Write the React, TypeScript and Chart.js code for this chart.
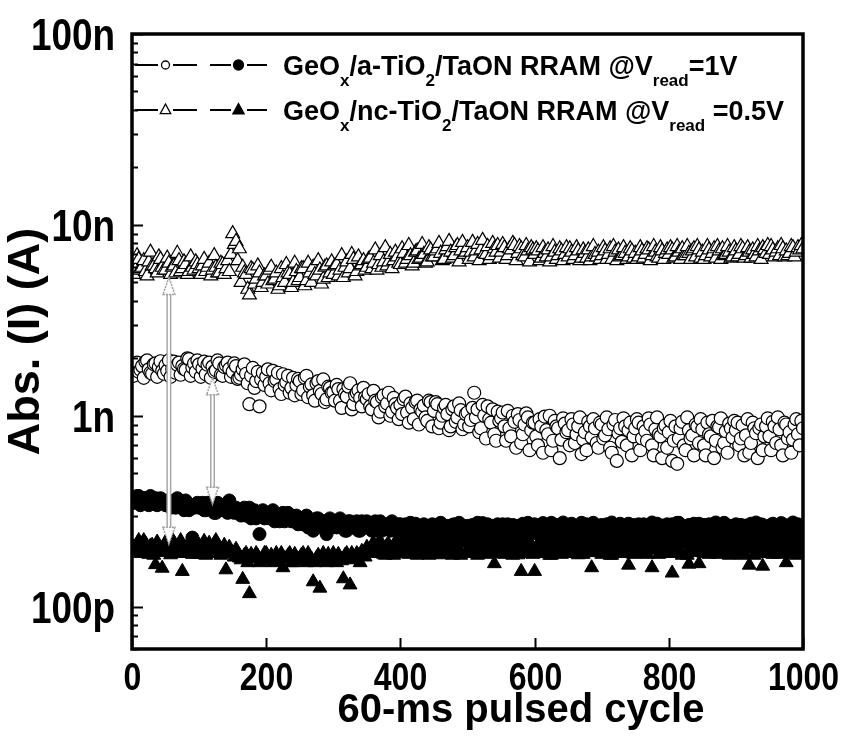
import React, { useEffect, useRef } from 'react';
import { Chart, registerables } from 'chart.js';

Chart.register(...registerables);

// ---------- data (currents in nA) ----------
// samples every 5 pulsed cycles (0 ... 1000) and an interleaved set at 2.5, 7.5, ... 997.5
const cycles: number[] = Array.from({ length: 201 }, (_, i) => i * 5);
const cyclesMid: number[] = Array.from({ length: 200 }, (_, i) => i * 5 + 2.5);

// GeOx/a-TiO2/TaON, open circles
const aTiO2Open: number[] = [
  1.78, 1.85, 1.70, 1.82, 1.92, 1.75, 1.66, 1.88, 1.80, 1.72,
  1.84, 1.95, 1.76, 1.68, 1.90, 1.82, 1.74, 1.98, 1.79, 1.70,
  1.86, 1.77, 1.65, 1.90, 1.81, 1.73, 1.88, 1.62, 1.84, 1.76,
  1.70, 1.82, 1.58, 1.75, 1.66, 1.15, 1.78, 1.52, 1.12, 1.68,
  1.60, 1.48, 1.72, 1.55, 1.38, 1.65, 1.50, 1.32, 1.58, 1.45,
  1.52, 1.36, 1.62, 1.42, 1.28, 1.48, 1.35, 1.55, 1.22, 1.40,
  1.33, 1.45, 1.20, 1.38, 1.26, 1.48, 1.15, 1.32, 1.24, 1.40,
  1.22, 1.12, 1.35, 1.18, 1.05, 1.28, 1.16, 1.00, 1.24, 1.10,
  1.14, 1.22, 1.04, 1.16, 0.96, 1.20, 1.08, 1.13, 0.94, 1.18,
  1.06, 1.15, 0.92, 1.10, 1.02, 0.88, 1.12, 0.98, 1.07, 0.90,
  1.04, 0.95, 1.32, 1.08, 0.86, 1.00, 1.12, 0.92, 0.80, 1.05,
  0.97, 0.88, 1.06, 0.78, 0.93, 1.02, 0.72, 0.90, 0.98, 0.84,
  0.92, 0.70, 0.88, 0.99, 0.80, 0.66, 0.94, 0.86, 0.75, 0.91,
  0.84, 0.96, 0.72, 0.88, 0.63, 0.82, 0.93, 0.77, 0.86, 0.68,
  0.90, 0.79, 0.85, 0.64, 0.95, 0.81, 0.73, 0.88, 0.84, 0.62,
  0.86, 0.92, 0.76, 0.83, 0.97, 0.70, 0.85, 0.80, 0.60, 0.89,
  0.82, 0.58, 0.88, 0.76, 0.93, 0.66, 0.84, 0.79, 0.90, 0.72,
  0.85, 0.62, 0.80, 0.94, 0.74, 0.87, 0.68, 0.83, 0.91, 0.77,
  0.84, 0.70, 0.89, 0.79, 0.64, 0.92, 0.81, 0.86, 0.66, 0.88,
  0.78, 0.93, 0.72, 0.85, 0.62, 0.90, 0.82, 0.75, 0.96, 0.70,
  0.86,
];
const aTiO2OpenMid: number[] = [
  1.62, 1.90, 1.74, 1.58, 1.95, 1.68, 1.86, 1.60, 1.93, 1.66,
  1.72, 1.60, 1.92, 1.85, 1.64, 1.76, 2.00, 1.62, 1.88, 1.95,
  1.60, 1.92, 1.85, 1.58, 1.70, 1.95, 1.64, 1.80, 1.90, 1.60,
  1.88, 1.56, 1.64, 1.86, 1.48, 1.62, 1.40, 1.70, 1.55, 1.45,
  1.75, 1.36, 1.52, 1.68, 1.30, 1.45, 1.62, 1.40, 1.28, 1.56,
  1.30, 1.58, 1.25, 1.46, 1.20, 1.52, 1.30, 1.18, 1.42, 1.32,
  1.20, 1.38, 1.10, 1.30, 1.42, 1.08, 1.28, 1.36, 1.12, 1.25,
  1.30, 1.08, 1.20, 0.98, 1.25, 1.12, 1.32, 1.05, 1.15, 0.96,
  1.02, 1.26, 0.92, 1.10, 1.18, 0.90, 1.05, 0.98, 1.20, 0.88,
  1.18, 0.86, 1.00, 1.14, 0.84, 1.08, 0.93, 1.16, 0.85, 1.02,
  0.88, 1.10, 0.98, 0.82, 1.14, 0.76, 0.96, 1.08, 0.74, 0.94,
  1.04, 0.74, 0.86, 1.00, 0.68, 0.95, 0.80, 1.03, 0.66, 0.92,
  0.78, 0.96, 0.64, 0.84, 1.00, 0.74, 0.88, 0.60, 0.97, 0.82,
  0.70, 0.90, 0.80, 0.98, 0.75, 0.66, 0.88, 0.96, 0.72, 0.92,
  0.76, 0.98, 0.68, 0.90, 0.58, 0.86, 0.97, 0.70, 0.92, 0.78,
  0.96, 0.66, 0.88, 0.74, 0.90, 0.62, 0.98, 0.78, 0.86, 0.68,
  0.94, 0.74, 0.56, 0.86, 0.70, 0.98, 0.76, 0.62, 0.88, 0.96,
  0.70, 0.92, 0.78, 0.60, 0.88, 0.97, 0.72, 0.64, 0.86, 0.94,
  0.92, 0.76, 0.62, 0.96, 0.72, 0.86, 0.60, 0.90, 0.78, 0.97,
  0.66, 0.88, 0.98, 0.70, 0.92, 0.76, 0.64, 0.90, 0.80, 0.94,
];

// GeOx/a-TiO2/TaON, filled circles
const aTiO2Filled: number[] = [
  0.37, 0.36, 0.38, 0.35, 0.37, 0.34, 0.36, 0.37, 0.35, 0.36,
  0.34, 0.36, 0.35, 0.33, 0.35, 0.34, 0.36, 0.32, 0.23, 0.34,
  0.33, 0.35, 0.32, 0.34, 0.33, 0.31, 0.34, 0.32, 0.33, 0.36,
  0.32, 0.33, 0.31, 0.32, 0.30, 0.33, 0.31, 0.29, 0.24, 0.32,
  0.31, 0.29, 0.32, 0.30, 0.28, 0.31, 0.29, 0.30, 0.28, 0.30,
  0.29, 0.27, 0.30, 0.28, 0.25, 0.29, 0.27, 0.28, 0.24, 0.29,
  0.28, 0.26, 0.29, 0.27, 0.25, 0.28, 0.26, 0.28, 0.25, 0.27,
  0.28, 0.26, 0.27, 0.25, 0.28, 0.26, 0.27, 0.25, 0.27, 0.26,
  0.27, 0.24, 0.26, 0.275, 0.235, 0.26, 0.23, 0.27, 0.245, 0.265,
  0.26, 0.235, 0.275, 0.23, 0.265, 0.245, 0.27, 0.23, 0.26, 0.24,
  0.265, 0.23, 0.25, 0.275, 0.235, 0.255, 0.27, 0.23, 0.245, 0.27,
  0.25, 0.23, 0.27, 0.245, 0.228, 0.265, 0.24, 0.232, 0.275, 0.245,
  0.27, 0.24, 0.23, 0.265, 0.245, 0.275, 0.232, 0.25, 0.27, 0.235,
  0.25, 0.272, 0.23, 0.255, 0.275, 0.24, 0.23, 0.268, 0.245, 0.232,
  0.268, 0.235, 0.25, 0.276, 0.242, 0.23, 0.265, 0.248, 0.272, 0.232,
  0.25, 0.27, 0.232, 0.255, 0.268, 0.276, 0.24, 0.23, 0.266, 0.245,
  0.232, 0.27, 0.248, 0.275, 0.235, 0.255, 0.268, 0.23, 0.25, 0.272,
  0.245, 0.23, 0.27, 0.25, 0.276, 0.234, 0.255, 0.268, 0.23, 0.25,
  0.27, 0.245, 0.23, 0.266, 0.25, 0.232, 0.276, 0.245, 0.268, 0.235,
  0.25, 0.272, 0.232, 0.255, 0.27, 0.23, 0.248, 0.276, 0.25, 0.235,
  0.255,
];
const aTiO2FilledMid: number[] = [
  0.35, 0.38, 0.34, 0.37, 0.36, 0.38, 0.35, 0.34, 0.37, 0.35,
  0.36, 0.33, 0.35, 0.37, 0.34, 0.32, 0.35, 0.34, 0.33, 0.35,
  0.34, 0.32, 0.35, 0.33, 0.31, 0.35, 0.33, 0.34, 0.31, 0.33,
  0.31, 0.32, 0.30, 0.33, 0.31, 0.29, 0.32, 0.30, 0.31, 0.29,
  0.30, 0.31, 0.28, 0.30, 0.29, 0.28, 0.31, 0.28, 0.29, 0.27,
  0.28, 0.29, 0.26, 0.28, 0.27, 0.29, 0.26, 0.28, 0.27, 0.26,
  0.27, 0.28, 0.26, 0.25, 0.28, 0.26, 0.27, 0.25, 0.28, 0.26,
  0.27, 0.25, 0.28, 0.26, 0.25, 0.27, 0.26, 0.28, 0.25, 0.27,
  0.25, 0.27, 0.245, 0.26, 0.272, 0.24, 0.265, 0.25, 0.235, 0.27,
  0.245, 0.27, 0.24, 0.258, 0.232, 0.268, 0.25, 0.275, 0.238, 0.262,
  0.24, 0.268, 0.23, 0.255, 0.274, 0.245, 0.232, 0.265, 0.25, 0.238,
  0.27, 0.248, 0.236, 0.268, 0.255, 0.23, 0.272, 0.25, 0.24, 0.266,
  0.245, 0.262, 0.274, 0.238, 0.255, 0.23, 0.268, 0.242, 0.276, 0.25,
  0.268, 0.24, 0.26, 0.232, 0.25, 0.27, 0.245, 0.275, 0.235, 0.262,
  0.242, 0.27, 0.235, 0.258, 0.23, 0.272, 0.25, 0.232, 0.255, 0.268,
  0.235, 0.248, 0.27, 0.232, 0.245, 0.255, 0.272, 0.262, 0.235, 0.27,
  0.265, 0.24, 0.275, 0.23, 0.26, 0.245, 0.232, 0.272, 0.268, 0.24,
  0.268, 0.255, 0.236, 0.272, 0.24, 0.262, 0.275, 0.238, 0.265, 0.248,
  0.24, 0.268, 0.255, 0.232, 0.272, 0.262, 0.238, 0.27, 0.234, 0.258,
  0.268, 0.235, 0.262, 0.274, 0.24, 0.266, 0.232, 0.255, 0.27, 0.245,
];

// GeOx/nc-TiO2/TaON, open triangles
const ncTiO2Open: number[] = [
  6.2, 5.8, 6.6, 6.0, 5.7, 6.4, 6.1, 5.9, 6.8, 6.0,
  5.8, 6.3, 6.0, 5.6, 6.5, 5.9, 6.2, 5.7, 6.0, 6.4,
  5.9, 6.1, 5.7, 6.3, 5.8, 6.0, 5.6, 6.2, 5.9, 5.7,
  9.0, 8.2, 7.5, 6.0, 5.5, 4.3, 5.8, 5.2, 5.6, 5.0,
  5.4, 5.8, 5.1, 5.6, 4.8, 5.3, 6.2, 5.5, 5.0, 5.7,
  5.3, 5.9, 5.1, 5.6, 6.0, 5.4, 5.8, 5.2, 6.1, 5.6,
  5.5, 6.2, 5.8, 5.3, 6.4, 5.9, 6.6, 5.7, 6.1, 6.5,
  6.0, 6.7, 6.3, 5.8, 6.9, 6.4, 6.1, 7.0, 6.5, 6.8,
  6.2, 7.1, 6.6, 6.9, 6.3, 7.3, 6.7, 7.0, 6.4, 7.4,
  6.8, 7.5, 7.1, 6.6, 7.7, 7.2, 6.9, 7.8, 7.3, 7.0,
  7.6, 7.2, 6.8, 7.9, 7.4, 7.1, 7.7, 6.9, 7.5, 7.8,
  7.2, 7.6, 6.9, 7.4, 7.8, 7.1, 7.5, 6.8, 7.3, 7.6,
  7.0, 7.3, 6.7, 7.1, 7.4, 6.8, 7.2, 6.9, 7.3, 7.0,
  6.8, 7.2, 6.9, 7.3, 6.7, 7.1, 7.4, 6.8, 7.0, 7.2,
  6.9, 7.3, 7.0, 6.6, 7.2, 7.4, 6.9, 7.1, 6.8, 7.3,
  7.1, 6.8, 7.3, 7.0, 7.4, 6.9, 7.2, 6.7, 7.3, 7.1,
  7.0, 7.4, 6.8, 7.2, 7.5, 6.9, 7.1, 7.3, 6.8, 7.4,
  7.2, 6.9, 7.4, 7.1, 6.7, 7.3, 7.5, 7.0, 7.2, 6.8,
  7.3, 7.0, 7.5, 6.9, 7.2, 7.4, 6.8, 7.3, 7.6, 7.1,
  7.0, 7.4, 7.2, 6.9, 7.5, 7.3, 7.1, 7.6, 7.2, 7.4,
  7.5,
];
const ncTiO2OpenMid: number[] = [
  5.5, 6.9, 5.9, 6.5, 5.4, 7.2, 6.1, 5.6, 6.6, 5.8,
  6.7, 5.5, 6.1, 7.1, 5.7, 6.4, 5.5, 6.8, 5.8, 6.2,
  5.5, 6.6, 6.0, 5.4, 6.9, 5.6, 6.3, 5.5, 6.5, 7.0,
  7.9, 6.5, 5.0, 5.6, 4.6, 5.9, 4.9, 6.1, 4.7, 5.4,
  4.9, 6.0, 5.2, 4.6, 5.9, 5.0, 5.6, 4.7, 6.3, 5.1,
  5.9, 4.8, 6.3, 5.0, 5.5, 6.5, 4.9, 6.0, 5.3, 6.4,
  6.1, 5.4, 6.9, 6.0, 5.6, 7.0, 5.4, 6.8, 6.2, 5.8,
  6.6, 5.9, 7.4, 6.2, 6.0, 7.6, 6.4, 5.9, 7.2, 6.3,
  7.5, 6.3, 7.8, 6.1, 7.2, 6.6, 7.9, 6.3, 7.6, 6.8,
  7.3, 8.0, 6.5, 7.4, 8.2, 6.7, 7.6, 6.4, 8.1, 7.2,
  6.6, 8.1, 7.3, 6.5, 8.3, 7.0, 6.6, 8.0, 7.2, 6.7,
  7.9, 6.6, 7.5, 8.0, 6.5, 7.7, 6.9, 7.8, 6.4, 7.4,
  7.5, 6.5, 7.6, 6.8, 6.4, 7.7, 6.6, 7.5, 6.5, 7.6,
  7.5, 6.6, 7.6, 6.5, 7.4, 6.7, 6.5, 7.7, 6.8, 6.6,
  7.6, 6.6, 7.5, 7.7, 6.5, 6.8, 7.6, 6.6, 7.5, 6.7,
  6.6, 7.6, 6.7, 7.5, 6.5, 7.7, 6.8, 7.6, 6.6, 7.4,
  7.6, 6.7, 7.7, 6.6, 6.9, 7.7, 6.6, 7.5, 7.7, 6.7,
  6.6, 7.7, 6.8, 7.5, 7.7, 6.6, 6.9, 7.7, 6.7, 7.6,
  6.8, 7.7, 6.7, 7.6, 6.7, 7.0, 7.7, 6.6, 7.4, 7.8,
  7.7, 6.8, 7.5, 7.8, 6.8, 6.9, 7.7, 6.8, 7.6, 7.8,
];

// GeOx/nc-TiO2/TaON, filled triangles
const ncTiO2Filled: number[] = [
  0.21, 0.195, 0.222, 0.20, 0.215, 0.188, 0.21, 0.166, 0.20, 0.159,
  0.218, 0.20, 0.225, 0.19, 0.21, 0.153, 0.20, 0.215, 0.188, 0.205,
  0.21, 0.196, 0.186, 0.215, 0.20, 0.222, 0.198, 0.19, 0.156, 0.205,
  0.19, 0.20, 0.18, 0.139, 0.19, 0.117, 0.18, 0.19, 0.17, 0.18,
  0.19, 0.18, 0.17, 0.19, 0.18, 0.16, 0.18, 0.19, 0.17, 0.18,
  0.18, 0.19, 0.17, 0.18, 0.135, 0.18, 0.125, 0.19, 0.17, 0.18,
  0.19, 0.17, 0.18, 0.14, 0.19, 0.13, 0.18, 0.19, 0.17, 0.19,
  0.205, 0.19, 0.215, 0.195, 0.22, 0.188, 0.21, 0.20, 0.186, 0.215,
  0.21, 0.19, 0.218, 0.195, 0.205, 0.186, 0.22, 0.198, 0.21, 0.188,
  0.20, 0.218, 0.187, 0.21, 0.195, 0.22, 0.19, 0.205, 0.186, 0.215,
  0.19, 0.212, 0.20, 0.186, 0.22, 0.195, 0.21, 0.19, 0.168, 0.215,
  0.205, 0.188, 0.22, 0.195, 0.21, 0.187, 0.153, 0.216, 0.196, 0.208,
  0.153, 0.21, 0.19, 0.22, 0.198, 0.186, 0.214, 0.20, 0.188, 0.218,
  0.205, 0.19, 0.218, 0.187, 0.21, 0.196, 0.22, 0.16, 0.192, 0.212,
  0.188, 0.215, 0.20, 0.186, 0.22, 0.195, 0.21, 0.19, 0.165, 0.216,
  0.205, 0.19, 0.218, 0.196, 0.21, 0.16, 0.22, 0.188, 0.212, 0.198,
  0.19, 0.150, 0.215, 0.20, 0.186, 0.22, 0.167, 0.21, 0.192, 0.168,
  0.205, 0.218, 0.188, 0.21, 0.196, 0.22, 0.19, 0.214, 0.186, 0.208,
  0.215, 0.195, 0.186, 0.21, 0.165, 0.20, 0.22, 0.19, 0.163, 0.212,
  0.198, 0.188, 0.218, 0.205, 0.19, 0.17, 0.215, 0.20, 0.186, 0.22,
  0.205,
];
const ncTiO2FilledMid: number[] = [
  0.20, 0.214, 0.19, 0.222, 0.196, 0.208, 0.186, 0.218, 0.20, 0.192,
  0.205, 0.187, 0.215, 0.198, 0.222, 0.19, 0.21, 0.196, 0.218, 0.188,
  0.196, 0.22, 0.205, 0.19, 0.214, 0.20, 0.186, 0.21, 0.198, 0.192,
  0.182, 0.192, 0.176, 0.186, 0.17, 0.188, 0.178, 0.184, 0.174, 0.19,
  0.176, 0.186, 0.18, 0.172, 0.19, 0.178, 0.185, 0.17, 0.188, 0.176,
  0.186, 0.174, 0.19, 0.178, 0.17, 0.186, 0.176, 0.182, 0.188, 0.172,
  0.18, 0.188, 0.174, 0.186, 0.178, 0.19, 0.176, 0.185, 0.195, 0.182,
  0.198, 0.21, 0.19, 0.215, 0.20, 0.186, 0.212, 0.194, 0.218, 0.196,
  0.195, 0.215, 0.188, 0.208, 0.22, 0.192, 0.20, 0.216, 0.186, 0.205,
  0.212, 0.19, 0.20, 0.22, 0.196, 0.186, 0.21, 0.198, 0.218, 0.19,
  0.205, 0.196, 0.218, 0.19, 0.206, 0.22, 0.188, 0.20, 0.214, 0.192,
  0.195, 0.215, 0.20, 0.186, 0.218, 0.20, 0.19, 0.206, 0.22, 0.188,
  0.20, 0.19, 0.216, 0.205, 0.186, 0.21, 0.195, 0.22, 0.19, 0.205,
  0.19, 0.214, 0.198, 0.22, 0.188, 0.205, 0.21, 0.192, 0.216, 0.196,
  0.212, 0.195, 0.186, 0.208, 0.20, 0.22, 0.19, 0.215, 0.198, 0.188,
  0.192, 0.216, 0.20, 0.188, 0.22, 0.198, 0.21, 0.19, 0.205, 0.214,
  0.215, 0.198, 0.19, 0.212, 0.22, 0.186, 0.205, 0.195, 0.218, 0.20,
  0.19, 0.205, 0.22, 0.196, 0.188, 0.21, 0.20, 0.194, 0.22, 0.19,
  0.20, 0.218, 0.19, 0.205, 0.212, 0.186, 0.196, 0.215, 0.20, 0.19,
  0.215, 0.20, 0.188, 0.21, 0.22, 0.196, 0.19, 0.205, 0.218, 0.196,
];

// axis ticks
const xTicks: number[] = [0, 200, 400, 600, 800, 1000];
const xTickLabels: string[] = ['0', '200', '400', '600', '800', '1000'];
const yDecades: number[] = [0.1, 1, 10, 100];
const yDecadeLabels: string[] = ['100p', '1n', '10n', '100n'];
const Y_MIN = 0.06;
const Y_MAX = 100;

// gray double-headed arrows: cycle, upper current, lower current (nA)
const arrowCycles: number[] = [55, 120];
const arrowTops: number[] = [5.3, 1.58];
const arrowBottoms: number[] = [0.212, 0.344];

const legendLines: [string, boolean][][] = [
  [['GeO', false], ['x', true], ['/a-TiO', false], ['2', true], ['/TaON RRAM @V', false], ['read', true], ['=1V', false]],
  [['GeO', false], ['x', true], ['/nc-TiO', false], ['2', true], ['/TaON RRAM @V', false], ['read', true], [' =0.5V', false]],
];

const SANS = "'Liberation Sans', Arial, sans-serif";
const NARROW_X = 0.82; // horizontal squeeze for the condensed tick labels

function isDecade(v: number) {
  return yDecades.findIndex((d) => Math.abs(v - d) / d < 1e-6);
}

function fillSqueezed(ctx: CanvasRenderingContext2D, text: string, x: number, y: number, align: CanvasTextAlign) {
  ctx.save();
  ctx.translate(x, y);
  ctx.scale(NARROW_X, 1);
  ctx.textAlign = align;
  ctx.fillText(text, 0, 0);
  ctx.restore();
}

function drawArrow(ctx: CanvasRenderingContext2D, x: number, y1: number, y2: number) {
  const head = 17;
  const hw = 6;
  ctx.save();
  ctx.strokeStyle = '#a8a8a8';
  ctx.lineWidth = 5;
  ctx.beginPath();
  ctx.moveTo(x, y1 + head - 1);
  ctx.lineTo(x, y2 - head + 1);
  ctx.stroke();
  ctx.strokeStyle = '#ffffff';
  ctx.lineWidth = 2;
  ctx.beginPath();
  ctx.moveTo(x, y1 + head - 1);
  ctx.lineTo(x, y2 - head + 1);
  ctx.stroke();
  ctx.fillStyle = '#ffffff';
  ctx.strokeStyle = '#a0a0a0';
  ctx.lineWidth = 1.5;
  ctx.setLineDash([2, 1]);
  [[y1, 1], [y2, -1]].forEach(([yy, dir]) => {
    ctx.beginPath();
    ctx.moveTo(x, yy);
    ctx.lineTo(x - hw, yy + dir * head);
    ctx.lineTo(x + hw, yy + dir * head);
    ctx.closePath();
    ctx.fill();
    ctx.stroke();
  });
  ctx.restore();
}

function drawMarker(ctx: CanvasRenderingContext2D, kind: string, x: number, y: number, filled: boolean) {
  ctx.beginPath();
  if (kind === 'circle') {
    ctx.arc(x, y, filled ? 5 : 4, 0, Math.PI * 2);
  } else {
    const r = filled ? 6.5 : 6;
    ctx.moveTo(x, y - r);
    ctx.lineTo(x - r * 0.87, y + r * 0.6);
    ctx.lineTo(x + r * 0.87, y + r * 0.6);
    ctx.closePath();
  }
  ctx.fillStyle = filled ? '#000' : '#fff';
  ctx.fill();
  ctx.lineWidth = 1.3;
  ctx.strokeStyle = '#000';
  ctx.stroke();
}

const decorPlugin = {
  id: 'decor',
  afterDatasetsDraw(chart: any) {
    const { ctx, scales } = chart;
    arrowCycles.forEach((c, i) => {
      const x = scales.x.getPixelForValue(c);
      drawArrow(ctx, x, scales.y.getPixelForValue(arrowTops[i]), scales.y.getPixelForValue(arrowBottoms[i]));
    });
  },
  afterDraw(chart: any) {
    const { ctx, chartArea: ca, scales } = chart;
    ctx.save();
    ctx.strokeStyle = '#000';
    ctx.fillStyle = '#000';
    ctx.lineWidth = 2;
    // inward y ticks + decade labels
    ctx.font = `bold 45px ${SANS}`;
    ctx.textBaseline = 'alphabetic';
    scales.y.ticks.forEach((t: any) => {
      const py = Math.round(scales.y.getPixelForValue(t.value)) + 0.5;
      const di = isDecade(t.value);
      const len = di >= 0 ? 11 : 6;
      ctx.beginPath();
      ctx.moveTo(ca.left, py);
      ctx.lineTo(ca.left + len, py);
      ctx.stroke();
      if (di >= 0) fillSqueezed(ctx, yDecadeLabels[di], ca.left - 17, py + 15, 'right');
    });
    // inward x ticks + labels
    ctx.font = `bold 39px ${SANS}`;
    scales.x.ticks.forEach((t: any) => {
      const px = Math.round(scales.x.getPixelForValue(t.value)) + 0.5;
      ctx.beginPath();
      ctx.moveTo(px, ca.bottom);
      ctx.lineTo(px, ca.bottom - 11);
      ctx.stroke();
      const li = xTicks.indexOf(t.value);
      if (li >= 0) fillSqueezed(ctx, xTickLabels[li], px, ca.bottom + 41, 'center');
    });
    // frame
    ctx.lineWidth = 3.5;
    ctx.strokeRect(ca.left, ca.top, ca.right - ca.left, ca.bottom - ca.top);

    // legend
    const rows = [
      { y: 65, kind: 'circle' },
      { y: 110, kind: 'triangle' },
    ];
    rows.forEach((row, ri) => {
      ctx.strokeStyle = '#000';
      ctx.lineWidth = 2;
      const dashes = [[135, 158], [173, 197], [210, 231], [247, 267]];
      dashes.forEach(([a, b]) => {
        ctx.beginPath();
        ctx.moveTo(a, row.y);
        ctx.lineTo(b, row.y);
        ctx.stroke();
      });
      drawMarker(ctx, row.kind, 165.5, row.y, false);
      drawMarker(ctx, row.kind, 238.5, row.y, true);
      let x = 283;
      const base = row.y + 10;
      ctx.fillStyle = '#000';
      ctx.textAlign = 'left';
      ctx.textBaseline = 'alphabetic';
      legendLines[ri].forEach(([text, sub]) => {
        ctx.font = sub ? `bold 17px ${SANS}` : `bold 27px ${SANS}`;
        ctx.fillText(text, x, sub ? base + 11 : base);
        x += ctx.measureText(text).width;
      });
    });

    // x-axis title
    ctx.fillStyle = '#000';
    ctx.font = `bold 40px ${SANS}`;
    ctx.textAlign = 'center';
    ctx.textBaseline = 'alphabetic';
    ctx.fillText('60-ms pulsed cycle', 521, 722);
    ctx.restore();
  },
};

function interleave(a: number[], b: number[]) {
  const out: { x: number; y: number }[] = [];
  a.forEach((v, i) => {
    out.push({ x: cycles[i], y: v });
    if (i < b.length) out.push({ x: cyclesMid[i], y: b[i] });
  });
  return out;
}

export default function App() {
  const canvasRef = useRef<HTMLCanvasElement | null>(null);

  useEffect(() => {
    if (!canvasRef.current) return;
    const chart = new Chart(canvasRef.current, {
      type: 'scatter',
      data: {
        datasets: [
          {
            label: 'GeOx/nc-TiO2/TaON (open)',
            data: interleave(ncTiO2Open, ncTiO2OpenMid),
            pointStyle: 'triangle',
            pointRadius: 8,
            borderWidth: 1.2,
            borderColor: '#000',
            backgroundColor: '#fff',
            showLine: false,
            clip: 0,
          },
          {
            label: 'GeOx/a-TiO2/TaON (open)',
            data: interleave(aTiO2Open, aTiO2OpenMid),
            pointStyle: 'circle',
            pointRadius: 6.5,
            borderWidth: 1.2,
            borderColor: '#000',
            backgroundColor: '#fff',
            showLine: false,
            clip: 0,
          },
          {
            label: 'GeOx/a-TiO2/TaON (filled)',
            data: interleave(aTiO2Filled, aTiO2FilledMid),
            pointStyle: 'circle',
            pointRadius: 6.5,
            borderWidth: 1,
            borderColor: '#000',
            backgroundColor: '#000',
            showLine: false,
            clip: 0,
          },
          {
            label: 'GeOx/nc-TiO2/TaON (filled)',
            data: interleave(ncTiO2Filled, ncTiO2FilledMid),
            pointStyle: 'triangle',
            pointRadius: 8,
            borderWidth: 1,
            borderColor: '#000',
            backgroundColor: '#000',
            showLine: false,
            clip: 0,
          },
        ] as any,
      },
      options: {
        responsive: false,
        animation: false,
        events: [],
        layout: { padding: { left: 0, right: 49, top: 34, bottom: 0 } },
        plugins: { legend: { display: false }, tooltip: { enabled: false }, title: { display: false } },
        scales: {
          x: {
            type: 'linear',
            min: 0,
            max: 1000,
            afterBuildTicks: (s: any) => {
              s.ticks = xTicks.map((v) => ({ value: v }));
            },
            afterFit: (s: any) => {
              s.height = 96;
            },
            grid: { display: false },
            border: { display: false },
            ticks: { display: false },
          },
          y: {
            type: 'logarithmic',
            min: Y_MIN,
            max: Y_MAX,
            afterBuildTicks: (s: any) => {
              const t: { value: number }[] = [];
              for (let e = -2; e <= 2; e++) {
                for (let m = 1; m <= 9; m++) {
                  const v = m * Math.pow(10, e);
                  if (v >= Y_MIN * 0.999 && v <= Y_MAX * 1.001) t.push({ value: v });
                }
              }
              s.ticks = t;
            },
            afterFit: (s: any) => {
              s.width = 132;
            },
            grid: { display: false },
            border: { display: false },
            ticks: { display: false },
            title: {
              display: true,
              text: 'Abs. (I) (A)',
              color: '#000',
              padding: 0,
              font: { family: SANS, size: 45, weight: 'bold' },
            },
          },
        },
      } as any,
      plugins: [decorPlugin],
    });
    return () => chart.destroy();
  }, []);

  return (
    <div style={{ position: 'fixed', left: 0, top: 0, width: 852, height: 745, background: '#fff' }}>
      <canvas ref={canvasRef} width={852} height={745} style={{ display: 'block' }} />
    </div>
  );
}
